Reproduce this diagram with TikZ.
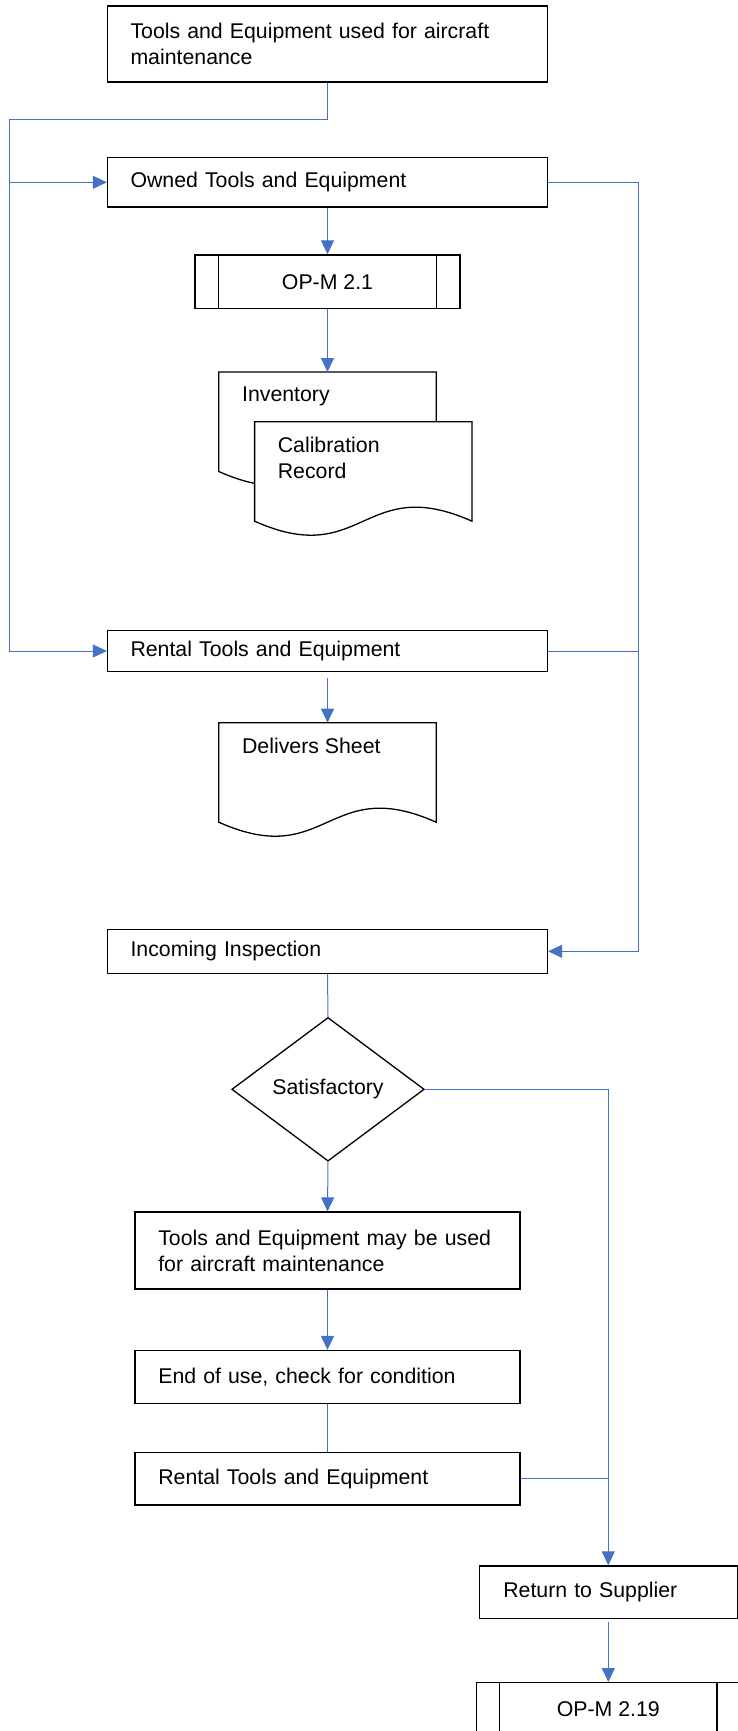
\documentclass[tikz,border=0pt]{standalone}
\usepackage{fontspec}
\setmainfont{Liberation Sans}
\usetikzlibrary{shapes.geometric,arrows.meta}
\definecolor{flowblue}{HTML}{4472C4}

% document symbol: #1 name of its top-centre coordinate, #2 left edge, #3 top edge
\newcommand\flowdoc[3]{%
  \draw[boxline, fill=white] (#2,#3) -- ({#2+217.4},#3) -- ({#2+217.4},{#3+99.5})
    .. controls ({#2+108.7},{#3+99.5-48.5}) and ({#2+108.7},{#3+99.5+48.5}) .. ({#2},{#3+99.5}) -- cycle;
  \coordinate (#1) at ({#2+108.7},#3);}

\begin{document}
\begin{tikzpicture}[x=1pt, y=-1pt,
  font=\fontsize{21.3pt}{26pt}\selectfont,
  boxline/.style={draw=black, line width=1.3pt},
  procbox/.style={boxline, fill=white, rectangle, inner xsep=23pt, inner ysep=3pt, align=left},
  predef/.style={boxline, fill=white, rectangle, inner sep=0pt, align=center},
  conn/.style={draw=flowblue, line width=1pt},
  arr/.style={conn, -{Triangle[length=14pt,width=13pt]}},
  doctext/.style={anchor=west, inner sep=0pt, align=left}]

\fill[white] (0,0) rectangle (738,1731);
\useasboundingbox (0,0) rectangle (738,1731);
\clip (0,0) rectangle (738,1731);

% main column of process boxes
\node[procbox, minimum width=440pt, minimum height=76pt, text width=394pt] (top) at (327.5,44)
  {Tools and Equipment used for aircraft\\maintenance};
\node[procbox, minimum width=440pt, minimum height=49.3pt, text width=394pt] (owned) at (327.5,182.3)
  {Owned Tools and Equipment};
\node[predef, minimum width=265pt, minimum height=53.7pt] (opm1) at (327.5,281.8) {OP-M 2.1};
\draw[boxline] ([xshift=24pt]opm1.north west) -- ([xshift=24pt]opm1.south west);
\draw[boxline] ([xshift=-24pt]opm1.north east) -- ([xshift=-24pt]opm1.south east);

% stacked records
\flowdoc{invtop}{218.8}{372}
\node[doctext] (invtext) at (241.9,396) {Inventory};
\flowdoc{caltop}{254.6}{421.7}
\node[doctext] (caltext) at (277.6,457.5) {Calibration\\Record};

\node[procbox, minimum width=440pt, minimum height=41.4pt, text width=394pt] (rent) at (327.5,651)
  {Rental Tools and Equipment};
\flowdoc{deltop}{218.8}{722.7}
\node[doctext] (deltext) at (241.9,745.7) {Delivers Sheet};

\node[procbox, minimum width=440pt, minimum height=44pt, text width=394pt] (insp) at (327.5,951.3)
  {Incoming Inspection};
\node[boxline, fill=white, diamond, inner sep=0pt, minimum width=192.5pt, minimum height=143.7pt] (sat)
  at (328,1089.3) {Satisfactory};

\node[procbox, minimum width=385pt, minimum height=77pt, text width=338.4pt, inner xsep=23.3pt] (use)
  at (327.5,1250.5) {Tools and Equipment may be used\\for aircraft maintenance};
\node[procbox, minimum width=385pt, minimum height=53pt, text width=338.4pt, inner xsep=23.3pt] (endu)
  at (327.5,1377) {End of use, check for condition};
\node[procbox, minimum width=385pt, minimum height=52.3pt, text width=338.4pt, inner xsep=23.3pt] (rent2)
  at (327.5,1478.8) {Rental Tools and Equipment};

% return branch
\node[procbox, minimum width=258pt, minimum height=52.7pt, text width=210pt, inner xsep=24pt] (ret)
  at (608.3,1592.3) {Return to Supplier};
\node[predef, minimum width=264pt, minimum height=53.7pt] (opm2) at (608.3,1709.5) {OP-M 2.19};
\draw[boxline] ([xshift=24pt]opm2.north west) -- ([xshift=24pt]opm2.south west);
\draw[boxline] ([xshift=-24pt]opm2.north east) -- ([xshift=-24pt]opm2.south east);

% connectors
\coordinate (lsplit) at (9.5,120);
\coordinate (rsplit) at (638.6,182.3);
\draw[arr] (top.south) |- (lsplit) |- (rent.west);
\draw[arr] (lsplit) |- (owned.west);
\draw[arr] (owned.south) -- (opm1.north);
\draw[arr] (opm1.south) -- (invtop);
\draw[arr] (owned.east) -- (rsplit) |- (insp.east);
\draw[conn] (rent.east) -- (rent.east -| rsplit);
\draw[arr, shorten <=6pt] (rent.south) -- (deltop);
\draw[conn] (insp.south) -- (sat.north);
\draw[arr] (sat.south) -- (use.north);
\draw[arr] (sat.east) -| (ret.north);
\draw[arr] (use.south) -- (endu.north);
\draw[conn] (endu.south) -- (rent2.north);
\draw[conn] (rent2.east) -- (rent2.east -| ret.north);
\draw[arr, shorten <=3pt] (ret.south) -- (opm2.north);
\end{tikzpicture}
\end{document}
